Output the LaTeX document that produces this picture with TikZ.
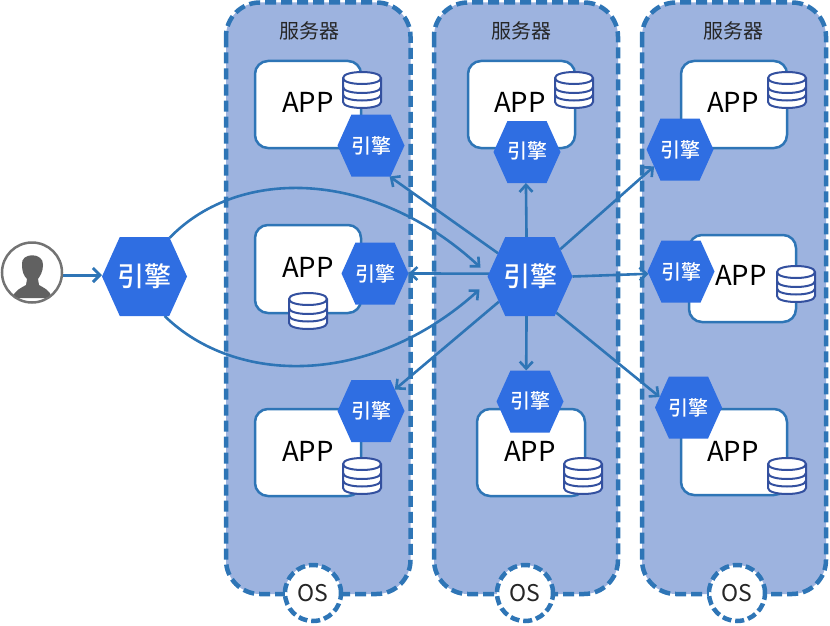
\documentclass[tikz,border=0pt]{standalone}
\usepackage{fontspec}
\setmainfont{Noto Sans CJK SC}
\newfontfamily\hexfont{Noto Sans CJK SC Medium}
\usetikzlibrary{arrows.meta}
\definecolor{linec}{HTML}{2E75B6}
\definecolor{panelc}{HTML}{9DB3DF}
\definecolor{hexc}{HTML}{2F6EE2}
\definecolor{dbc}{HTML}{33509F}
\pgfdeclarelayer{back}
\pgfdeclarelayer{conn}
\pgfsetlayers{back,conn,main}
\makeatletter
\pgfdeclareshape{hexnode}{
  \inheritsavedanchors[from=rectangle]
  \inheritanchor[from=rectangle]{center}
  \inheritanchor[from=rectangle]{text}
  \inheritanchor[from=rectangle]{base}
  \inheritanchor[from=rectangle]{north}
  \inheritanchor[from=rectangle]{south}
  \inheritanchor[from=rectangle]{east}
  \inheritanchor[from=rectangle]{west}
  \backgroundpath{
    \southwest \pgf@xa=\pgf@x \pgf@ya=\pgf@y
    \northeast \pgf@xb=\pgf@x \pgf@yb=\pgf@y
    \pgf@yc=\pgf@yb \advance\pgf@yc by-\pgf@ya
    \pgf@xc=.225\pgf@yc
    \edef\hxl{\the\pgf@xa}\edef\hxr{\the\pgf@xb}\edef\hxb{\the\pgf@ya}\edef\hxt{\the\pgf@yb}
    \pgf@x=\pgf@xa \advance\pgf@x by\pgf@xc \edef\hxil{\the\pgf@x}
    \pgf@x=\pgf@xb \advance\pgf@x by-\pgf@xc \edef\hxir{\the\pgf@x}
    \pgf@y=.5\pgf@ya \advance\pgf@y by.5\pgf@yb \edef\hxm{\the\pgf@y}
    \pgfpathmoveto{\pgfqpoint{\hxl}{\hxm}}
    \pgfpathlineto{\pgfqpoint{\hxil}{\hxt}}
    \pgfpathlineto{\pgfqpoint{\hxir}{\hxt}}
    \pgfpathlineto{\pgfqpoint{\hxr}{\hxm}}
    \pgfpathlineto{\pgfqpoint{\hxir}{\hxb}}
    \pgfpathlineto{\pgfqpoint{\hxil}{\hxb}}
    \pgfpathclose
  }
  \anchorborder{
    \edef\hxdx{\pgf@sys@tonumber\pgf@x}\edef\hxdy{\pgf@sys@tonumber\pgf@y}
    \southwest \pgf@xa=\pgf@x \pgf@ya=\pgf@y
    \northeast \advance\pgf@x by-\pgf@xa \advance\pgf@y by-\pgf@ya
    \pgf@xc=.5\pgf@x \pgf@yc=.5\pgf@y
    \advance\pgf@xa by\pgf@xc \advance\pgf@ya by\pgf@yc
    \edef\hxw{\pgf@sys@tonumber\pgf@xc}\edef\hxh{\pgf@sys@tonumber\pgf@yc}
    \edef\hxcx{\the\pgf@xa}\edef\hxcy{\the\pgf@ya}
    \pgfmathparse{min(\hxh/max(abs(\hxdy),0.01),\hxw/(abs(\hxdx)+0.45*abs(\hxdy)))}
    \let\hxscale\pgfmathresult
    \pgf@x=\hxdx pt \pgf@x=\hxscale\pgf@x \advance\pgf@x by\hxcx
    \pgf@y=\hxdy pt \pgf@y=\hxscale\pgf@y \advance\pgf@y by\hxcy
  }
}
\makeatother
\tikzset{
  panelbox/.style={fill=panelc,draw=linec,line width=4.5pt,rounded corners=34pt,dash pattern=on 11pt off 5pt},
  osnode/.style={circle,fill=white,draw=linec,line width=4.5pt,dash pattern=on 9pt off 4pt,minimum size=56pt,inner sep=0pt,font=\fontsize{23}{26}\selectfont,text=black!85},
  appbox/.style={rounded corners=13pt,fill=white,draw=linec,line width=2.5pt},
  apptext/.style={font=\fontsize{27.5}{32}\selectfont,text=black,inner sep=0pt},
  titletext/.style={font=\fontsize{20}{24}\selectfont,text=black!85,inner sep=0pt},
  hexs/.style={shape=hexnode,minimum width=67pt,minimum height=62pt,inner sep=0pt,outer sep=0pt,fill=hexc,text=white,font=\hexfont\fontsize{20}{24}\selectfont},
  hexb/.style={shape=hexnode,minimum width=85pt,minimum height=79pt,inner sep=0pt,outer sep=0pt,fill=hexc,text=white,font=\hexfont\fontsize{27}{32}\selectfont},
  conn/.style={draw=linec,line width=2.6pt,-{Straight Barb[length=7pt,width=13pt,line width=2.6pt]}},
  dbstack/.pic={
    \path[fill=white] (-19,-12) .. controls (-19,-20) and (19,-20) .. (19,-12) -- (19,12) .. controls (19,20) and (-19,20) .. (-19,12) -- cycle;
    \draw[draw=dbc,line width=2pt] (-19,-12) .. controls (-19,-20) and (19,-20) .. (19,-12) -- (19,12) .. controls (19,20) and (-19,20) .. (-19,12) -- cycle;
    \draw[draw=dbc,line width=2pt] (-19,-12) .. controls (-19,-4) and (19,-4) .. (19,-12);
    \draw[draw=dbc,line width=2pt] (-19,-3) .. controls (-19,5) and (19,5) .. (19,-3);
    \draw[draw=dbc,line width=2pt] (-19,4.5) .. controls (-19,12.5) and (19,12.5) .. (19,4.5);
  }
}
\begin{document}
\begin{tikzpicture}[x=1pt,y=-1pt]
\useasboundingbox (0,0) rectangle (830,626);
\begin{pgfonlayer}{back}
  \path[panelbox] (226,2.5) rectangle (410.5,594);
  \path[panelbox] (434,2.5) rectangle (618,594);
  \path[panelbox] (642,2.5) rectangle (826,594);
\end{pgfonlayer}
% OS
\node[osnode] (os1) at (313,593) {OS};
\node[osnode] (os2) at (525,593) {OS};
\node[osnode] (os3) at (737,593) {OS};
% titles
\node[titletext] (t1) at (309,31) {服务器};
\node[titletext] (t2) at (521,31) {服务器};
\node[titletext] (t3) at (733,31) {服务器};
% app boxes
\draw[appbox] (255,61) rectangle (361,148);
\draw[appbox] (255,225) rectangle (361,313);
\draw[appbox] (255,409) rectangle (361,496);
\draw[appbox] (468,61) rectangle (575,148);
\draw[appbox] (477,409) rectangle (585,496);
\draw[appbox] (681,61) rectangle (787,148);
\draw[appbox] (689,235) rectangle (796,322);
\draw[appbox] (681,409) rectangle (787,495);
% app text
\node[apptext] (x1) at (308,102) {APP};
\node[apptext] (x2) at (308,267) {APP};
\node[apptext] (x3) at (308,451) {APP};
\node[apptext] (x4) at (520,102) {APP};
\node[apptext] (x5) at (530,451) {APP};
\node[apptext] (x6) at (733,102) {APP};
\node[apptext] (x7) at (741,275) {APP};
\node[apptext] (x8) at (733,451) {APP};
% databases
\pic at (362,90) {dbstack};
\pic at (308,311) {dbstack};
\pic at (362,476) {dbstack};
\pic at (574,90) {dbstack};
\pic at (583,476) {dbstack};
\pic at (787,90) {dbstack};
\pic at (796,284) {dbstack};
\pic at (787,476) {dbstack};
% engines
\node[hexb] (entry) at (144.5,276.5) {引擎};
\node[hexb] (hub) at (530,276.5) {引擎};
\node[hexs] (a1) at (371,145.5) {引擎};
\node[hexs] (b1) at (375,273.5) {引擎};
\node[hexs] (c1) at (371,411) {\raisebox{2.5pt}{引擎}};
\node[hexs] (a2) at (527,152) {\raisebox{3pt}{引擎}};
\node[hexs] (c2) at (530,401.5) {\raisebox{2.5pt}{引擎}};
\node[hexs] (a3) at (680,149.5) {引擎};
\node[hexs] (b3) at (681,271.5) {引擎};
\node[hexs] (c3) at (688.5,407.5) {引擎};
% user
\node[circle,draw=black!55,line width=2.5pt,fill=white,minimum size=60pt,inner sep=0pt] (user) at (32,272.5) {};
\begin{scope}
  \clip (32,272.5) circle (29pt);
  \fill[black!62] (22,265) .. controls (20,252) and (44,252) .. (43,265)
    .. controls (43,272) and (40,276) .. (38,279) -- (39,285)
    .. controls (44,288) and (50,290) .. (52,298) -- (12,298)
    .. controls (15,290) and (21,288) .. (26,285) -- (27,279)
    .. controls (24,276) and (22,272) .. (22,265) -- cycle;
\end{scope}
\begin{pgfonlayer}{conn}
  \draw[draw=linec,line width=3pt,-{Straight Barb[length=7pt,width=14pt,line width=3pt]}] ([yshift=-2.5pt]user.east) -- ([yshift=1.5pt]entry.west);
  \draw[conn] (entry.57) .. controls (240,165) and (375,170) .. ([xshift=-7pt,yshift=9pt]hub.west);
  \draw[conn] (entry.-63) .. controls (235,385) and (370,388) .. ([xshift=-8pt,yshift=-13pt]hub.west);
  \draw[conn] (hub.144.5) -- (a1.-59);
  \draw[conn] (hub.95) -- (a2.-92);
  \draw[conn] (hub.42.5) -- (a3.213);
  \draw[conn] (hub.176) -- (b1.0);
  \draw[conn] (hub.0) -- (b3.184.5);
  \draw[conn] (hub.219) -- (c1.42);
  \draw[conn] (hub.-95) -- (c2.97);
  \draw[conn] (hub.-54.5) -- (c3.160);
\end{pgfonlayer}
\end{tikzpicture}
\end{document}
